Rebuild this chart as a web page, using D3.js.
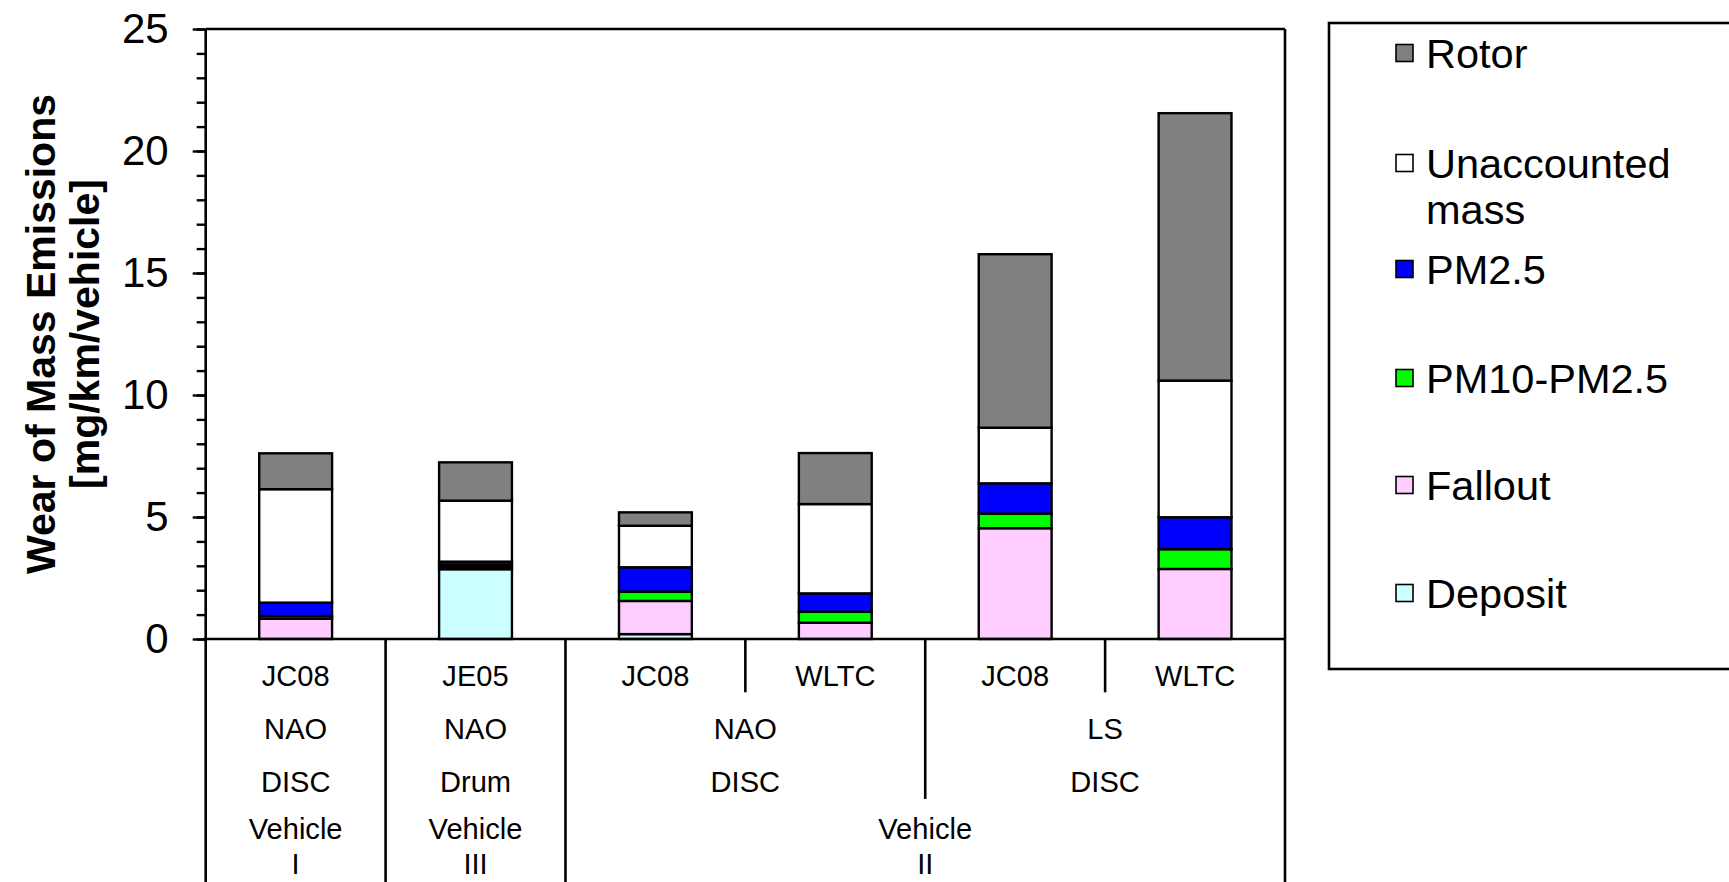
<!DOCTYPE html>
<html>
<head>
<meta charset="utf-8">
<script src="https://cdn.jsdelivr.net/npm/d3@7"></script>
<style>
  html, body { margin: 0; padding: 0; background: #fff; }
  svg { display: block; font-family: "Liberation Sans", Arial, sans-serif; }
</style>
</head>
<body>
<svg id="chart" width="1729" height="882"></svg>
<script>
// Test conditions, one bar each
const cycles    = ["JC08", "JE05", "JC08", "WLTC", "JC08", "WLTC"];
const padGroups   = [{ label: "NAO", span: 1 }, { label: "NAO", span: 1 }, { label: "NAO", span: 2 }, { label: "LS", span: 2 }];
const brakeGroups = [{ label: "DISC", span: 1 }, { label: "Drum", span: 1 }, { label: "DISC", span: 2 }, { label: "DISC", span: 2 }];
const vehicleGroups = [{ label: ["Vehicle", "I"], span: 1 }, { label: ["Vehicle", "III"], span: 1 }, { label: ["Vehicle", "II"], span: 4 }];

// Stacked components, bottom to top [mg/km/vehicle]
const seriesNames = ["Deposit", "Fallout", "PM10-PM2.5", "PM2.5", "Unaccounted mass", "Rotor"];
const deposit     = [0.00, 2.86, 0.20, 0.00, 0.00, 0.00];
const fallout     = [0.83, 0.10, 1.36, 0.67, 4.54, 2.87];
const pm10_25     = [0.11, 0.08, 0.38, 0.45, 0.60, 0.81];
const pm25        = [0.55, 0.13, 1.00, 0.75, 1.24, 1.31];
const unaccounted = [4.65, 2.50, 1.70, 3.66, 2.28, 5.60];
const rotor       = [1.47, 1.57, 0.55, 2.09, 7.11, 10.96];

const yTicks = [0, 5, 10, 15, 20, 25];
const colors = ["#ccffff", "#ffccff", "#00ff00", "#0000ff", "#ffffff", "#808080"];

const seriesValues = [deposit, fallout, pm10_25, pm25, unaccounted, rotor];
const rows = cycles.map((c, i) => {
  const r = { idx: i };
  seriesNames.forEach((s, k) => { r[s] = seriesValues[k][i]; });
  return r;
});

const svg = d3.select("#chart");
const plotL = 205.7, plotR = 1285, plotT = 29, plotB = 639;
const pageH = 882;

const x = d3.scaleBand().domain(d3.range(cycles.length)).range([plotL, plotR])
  .paddingInner(0.595).paddingOuter(0.2975);
const step = x.step();
const y = d3.scaleLinear().domain([0, 25]).range([plotB, plotT]);

// Stacked bars
const stack = d3.stack().keys(seriesNames)(rows);
svg.append("g").selectAll("g").data(stack).join("g")
  .attr("fill", (d, i) => colors[i])
  .selectAll("rect").data(d => d).join("rect")
  .attr("x", d => x(d.data.idx))
  .attr("width", x.bandwidth())
  .attr("y", d => y(d[1]))
  .attr("height", d => y(d[0]) - y(d[1]))
  .attr("stroke", "#000").attr("stroke-width", 2.4);

// Y axis with major and minor ticks
const yMinor = svg.append("g").attr("transform", `translate(${plotL},0)`)
  .call(d3.axisLeft(y).tickValues(d3.range(0, 26, 1)).tickSize(9).tickFormat(""));
yMinor.selectAll(".tick line").attr("stroke", "#000").attr("stroke-width", 2.4);
yMinor.select(".domain").remove();
const yMajor = svg.append("g").attr("transform", `translate(${plotL},0)`)
  .call(d3.axisLeft(y).tickValues(yTicks).tickSize(13).tickPadding(24));
yMajor.select(".domain").remove();
yMajor.selectAll(".tick line").attr("stroke", "#000").attr("stroke-width", 2.4);
yMajor.selectAll(".tick text").attr("font-size", 42).attr("fill", "#000")
  .attr("font-family", "'Liberation Sans', Arial, sans-serif");

// Plot frame and table lines
const line = (x1, y1, x2, y2) => svg.append("line")
  .attr("x1", x1).attr("y1", y1).attr("x2", x2).attr("y2", y2)
  .attr("stroke", "#000").attr("stroke-width", 2.6);
line(plotL, plotT, plotL, pageH);
line(plotL, plotT, plotR, plotT);
line(plotR, plotT, plotR, pageH);
line(plotL - 2, plotB, plotR, plotB);

// Category table below the axis
const rowH = 53.3;
const tableRows = [
  cycles.map(c => ({ label: c, span: 1 })),
  padGroups, brakeGroups, vehicleGroups
];
// depth of each category boundary = last row where it separates groups
const boundaryDepth = d3.range(1, cycles.length).map(b => {
  let depth = 0;
  tableRows.forEach((row, r) => {
    let acc = 0;
    row.forEach(g => { acc += g.span; if (acc === b) depth = r + 1; });
  });
  return depth;
});
boundaryDepth.forEach((depth, i) => {
  const bx = plotL + (i + 1) * step;
  const yEnd = depth >= tableRows.length ? pageH : plotB + depth * rowH;
  line(bx, plotB, bx, yEnd);
});

const tableText = svg.append("g").attr("font-size", 30).attr("fill", "#000")
  .attr("text-anchor", "middle");
tableRows.forEach((row, r) => {
  let acc = 0;
  row.forEach(g => {
    const cx = plotL + (acc + g.span / 2) * step;
    acc += g.span;
    const labels = Array.isArray(g.label) ? g.label : [g.label];
    const cy = plotB + r * rowH + 36 - (labels.length - 1) * 6;
    labels.forEach((s, k) => {
      tableText.append("text")
        .attr("transform", `translate(${cx},${cy + k * 35}) scale(0.97,1)`)
        .attr("dy", "0.35em")
        .text(s);
    });
  });
});

// Y axis title
const titleY = (plotT + plotB) / 2;
const yTitle = svg.append("text")
  .attr("transform", `translate(41,${titleY}) rotate(-90)`)
  .attr("text-anchor", "middle").attr("font-weight", "bold").attr("font-size", 41);
yTitle.append("tspan").attr("x", 0).attr("dy", "0.35em").text("Wear of Mass Emissions");
yTitle.append("tspan").attr("x", 0).attr("dy", "1.07em").text("[mg/km/vehicle]");

// Legend, top to bottom
const legend = svg.append("g");
legend.append("rect").attr("x", 1329).attr("y", 23).attr("width", 420).attr("height", 646)
  .attr("fill", "none").attr("stroke", "#000").attr("stroke-width", 2.6);
const legendOrder = d3.range(seriesNames.length).reverse();
const legendY = [53, 163, 269, 378, 485, 593];
const legendLabels = { "Unaccounted mass": ["Unaccounted", "mass"] };
legendOrder.forEach((k, j) => {
  const cy = legendY[j];
  legend.append("rect").attr("x", 1396).attr("y", cy - 8.5).attr("width", 17).attr("height", 17)
    .attr("fill", colors[k]).attr("stroke", "#000").attr("stroke-width", 1.6);
  const lines = legendLabels[seriesNames[k]] || [seriesNames[k]];
  const t = legend.append("text").attr("x", 1426).attr("y", cy)
    .attr("font-size", 41.5).attr("fill", "#000");
  lines.forEach((s, m) => {
    t.append("tspan").attr("x", 1426).attr("dy", m === 0 ? "0.35em" : 46.5).text(s);
  });
});
</script>
</body>
</html>
